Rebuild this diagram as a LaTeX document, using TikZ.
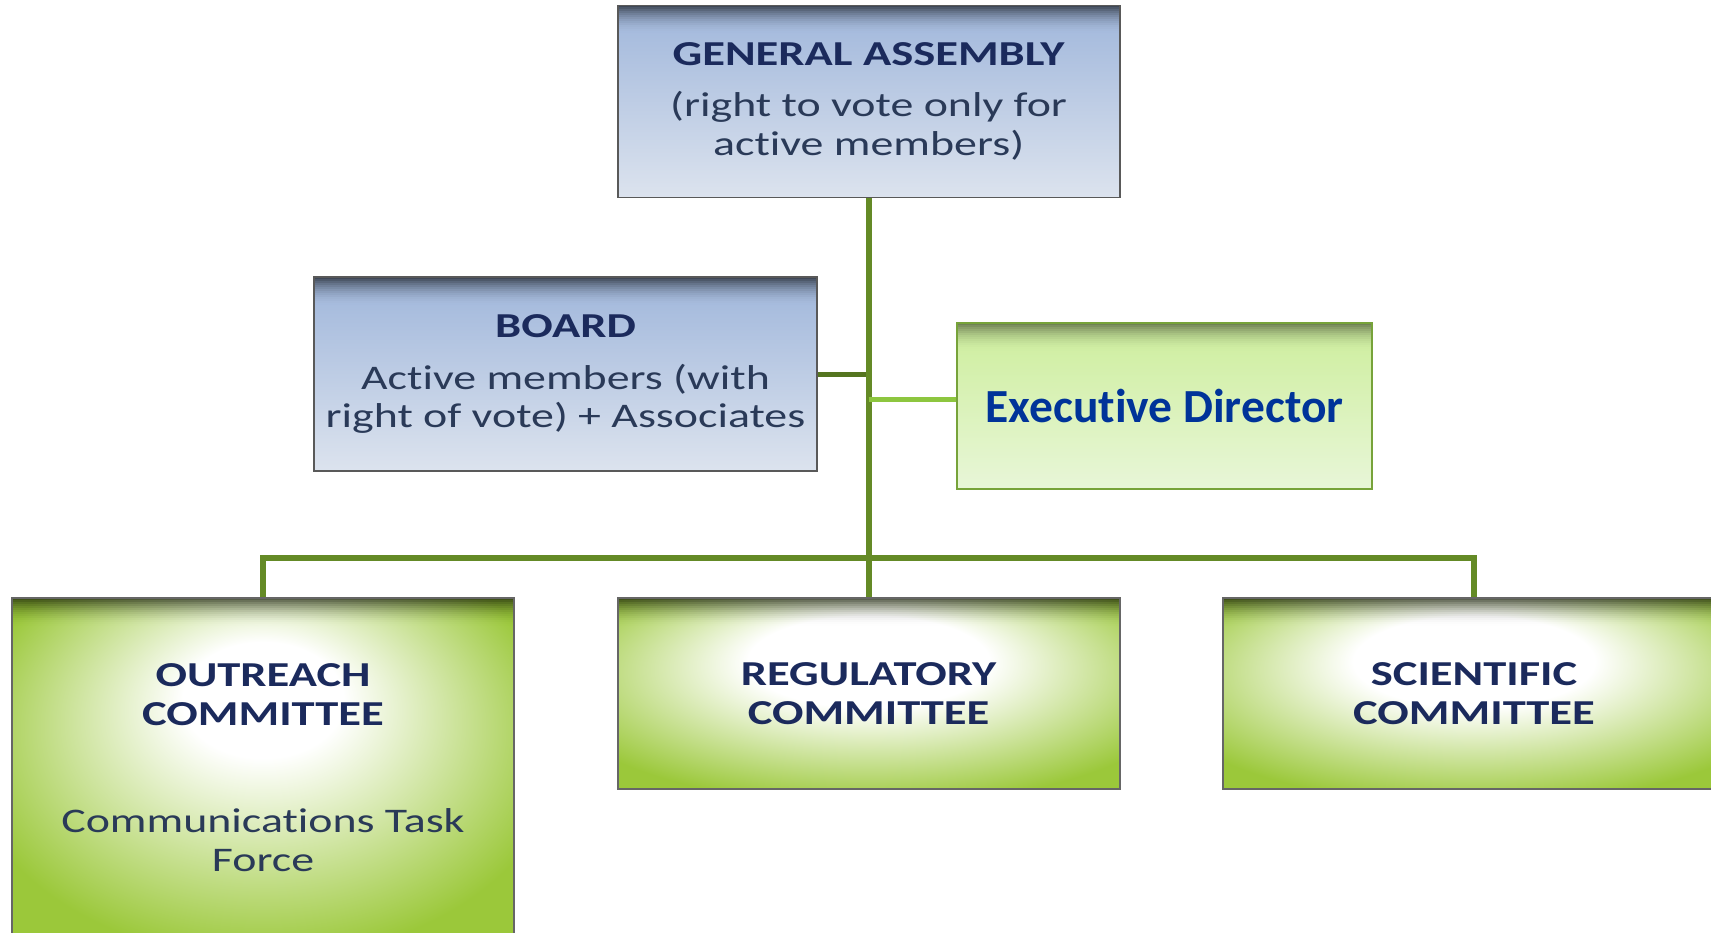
\documentclass[tikz,border=0pt]{standalone}
\usepackage{fontspec}
\setmainfont{Carlito}[Ligatures=NoCommon]
\newfontfamily\widef{Carlito}[FakeStretch=1.33, Ligatures=NoCommon]
\usetikzlibrary{backgrounds}
\definecolor{navy}{HTML}{1B2A5C}
\definecolor{bodytxt}{HTML}{2A3A58}
\definecolor{trunkgreen}{HTML}{648A26}
\definecolor{lightline}{HTML}{8DC63F}
\definecolor{blueTop}{HTML}{9FB6DB}
\definecolor{blueBot}{HTML}{DCE3EE}
\definecolor{boxgreen}{HTML}{9BC83A}
\definecolor{execTop}{HTML}{CDEE9C}
\definecolor{execBot}{HTML}{E8F6D8}
\definecolor{execBorder}{HTML}{77A33A}
\definecolor{exectxt}{HTML}{003399}
\pgfdeclareradialshading{greenglow}{\pgfpoint{0bp}{11bp}}{color(0bp)=(white); color(12bp)=(white); color(33bp)=(boxgreen); color(50bp)=(boxgreen)}
\pgfdeclareradialshading{greenglowtall}{\pgfpoint{0bp}{13bp}}{color(0bp)=(white); color(8bp)=(white); color(30bp)=(boxgreen); color(50bp)=(boxgreen)}
\newcommand\titlefont{\widef\bfseries\fontsize{35}{39}\selectfont\color{navy}}
\newcommand\bodyfont{\widef\mdseries\fontsize{34.5}{38.5}\selectfont\color{bodytxt}}
\tikzset{
  topshadow/.style={path picture={
    \foreach \i in {0,...,13}{
      \pgfmathsetmacro\op{#1*(1-\i/14)*(1-\i/14)}
      \fill[black, opacity=\op] ([yshift=-2*\i pt]path picture bounding box.north west) rectangle ([yshift=-2*\i pt-2pt]path picture bounding box.north east);
    }}},
  bluebox/.style={draw=black!65, line width=1.8pt, top color=blueTop, bottom color=blueBot, minimum width=502pt, align=center, inner sep=0pt, font=\bodyfont, text=bodytxt, topshadow=0.6},
  greenbox/.style={draw=black!60, line width=1.8pt, shading=greenglow, minimum width=502pt, align=center, inner sep=0pt, font=\titlefont, text=navy, topshadow=0.6},
  execbox/.style={draw=execBorder, line width=2.6pt, top color=execTop, bottom color=execBot, minimum width=415pt, minimum height=166pt, inner sep=0pt, font=\bfseries\fontsize{47.5}{50}\selectfont, text=exectxt, topshadow=0.45},
  trunk/.style={draw=trunkgreen, line width=6pt},
  boardline/.style={draw=trunkgreen!85!black, line width=5pt},
  execline/.style={draw=lightline, line width=5pt}
}
\begin{document}
\begin{tikzpicture}[x=1pt,y=-1pt]
\useasboundingbox (0,0) rectangle (1711,933);
\node[bluebox, minimum height=192pt] (GA) at (868.6,101.5)
  {\titlefont GENERAL ASSEMBLY\\[12.5pt]\bodyfont (right to vote only for\\\bodyfont active members)};
\node[bluebox, minimum width=503pt, minimum height=194pt] (BOARD) at (565.5,374)
  {\titlefont BOARD\\[13pt]\bodyfont Active members (with\\\bodyfont right of vote) + Associates};
\node[execbox] (EXEC) at (1164.5,406) {Executive Director};
\node[greenbox, minimum height=191pt] (REG) at (868.6,693.5) {REGULATORY\\COMMITTEE};
\node[greenbox, minimum height=191pt] (SCI) at (1474,693.5) {SCIENTIFIC\\COMMITTEE};
\node[greenbox, shading=greenglowtall, minimum height=362pt] (OUT) at (263,779) {};
\node[align=center, inner sep=0pt, font=\titlefont, text=navy] (OUTTXT) at (263,768)
  {OUTREACH\\COMMITTEE\\[68pt]\bodyfont Communications Task\\\bodyfont Force};
\coordinate (busy) at (0,557.6);
\coordinate (exy) at (0,399);
\begin{scope}[on background layer]
\fill[white] (0,0) rectangle (1711,933);
\draw[boardline] (BOARD.east) -- (BOARD.east -| GA.south);
\draw[trunk] (GA.south) -- (REG.north);
\draw[trunk] (OUT.north) -- (OUT.north |- busy) -- (SCI.north |- busy) -- (SCI.north);
\draw[execline] (GA.south |- exy) -- (EXEC.west |- exy);
\end{scope}
\end{tikzpicture}
\end{document}
